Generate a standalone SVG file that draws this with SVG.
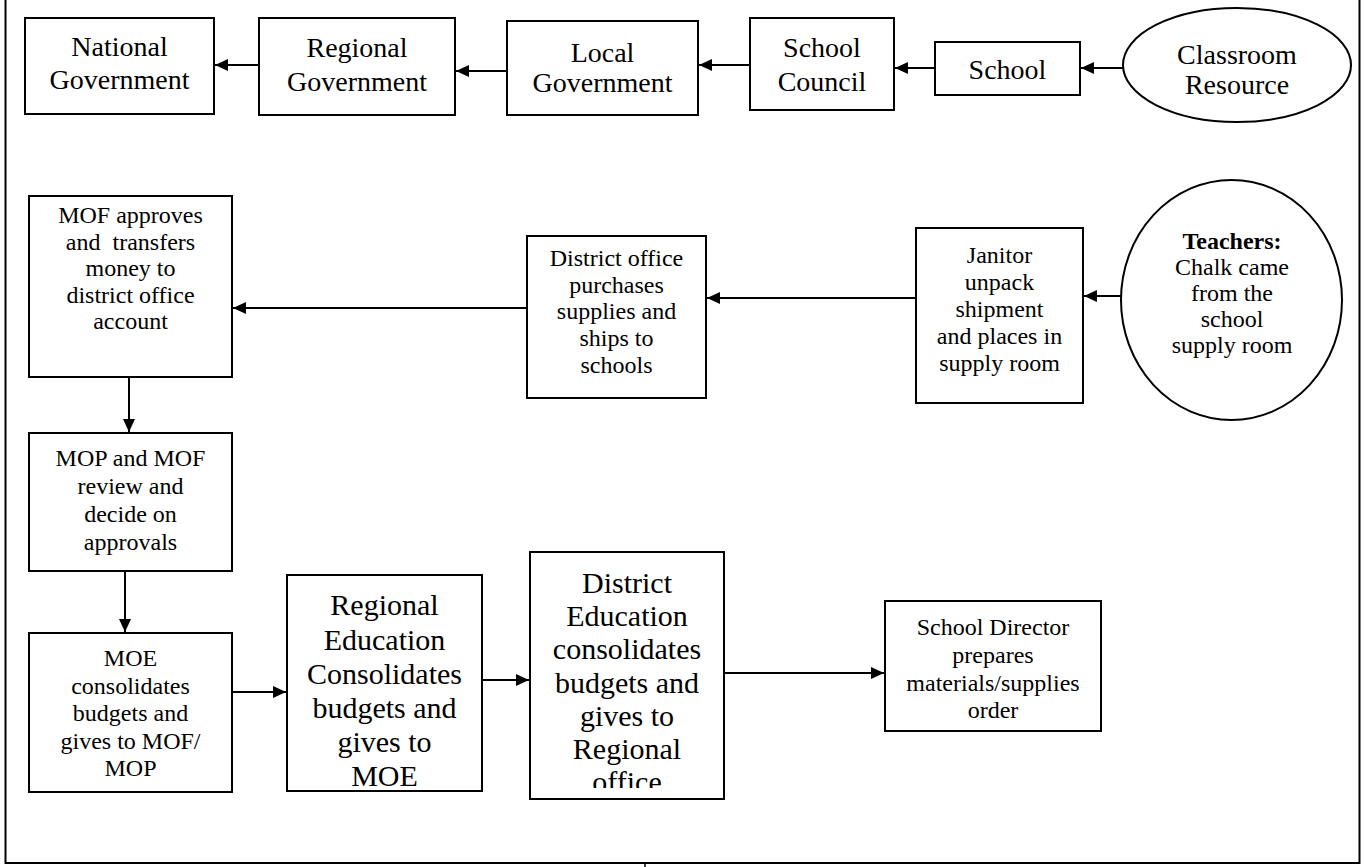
<svg xmlns="http://www.w3.org/2000/svg" width="1364" height="867" viewBox="0 0 1364 867">
  <style>
    .box { fill: #fff; stroke: #000; stroke-width: 2; }
    .edge { fill: none; stroke: #000; stroke-width: 2; }
    text { font-family: "Liberation Serif", "Times New Roman", serif; fill: #000; text-anchor: middle; }
    .t28 { font-size: 28px; }
    .t24 { font-size: 24px; }
    .t30 { font-size: 30px; }
    .b { font-weight: bold; }
  </style>
  <defs>
    <marker id="arrow" markerUnits="userSpaceOnUse" markerWidth="14" markerHeight="12" refX="13" refY="6" orient="auto">
      <path d="M0,0 L13,6 L0,12 Z" fill="#000"/>
    </marker>
    <clipPath id="distClip">
      <rect x="530" y="552" width="194" height="236"/>
    </clipPath>
  </defs>

  <rect width="1364" height="867" fill="#fff"/>

  <!-- page frame (top edge runs off the sheet) -->
  <path d="M5.5,0 V863 H1359.5 V0" class="edge"/>
  <line x1="645" y1="863" x2="645" y2="867" stroke="#000" stroke-width="1.5"/>

  <!-- top chain -->
  <g id="national-government">
    <rect class="box" x="25" y="18" width="189" height="96"/>
    <text class="t28" x="119.5" y="56">National</text>
    <text class="t28" x="119.5" y="89">Government</text>
  </g>
  <g id="regional-government">
    <rect class="box" x="259" y="18" width="196" height="97"/>
    <text class="t28" x="357" y="57">Regional</text>
    <text class="t28" x="357" y="91">Government</text>
  </g>
  <g id="local-government">
    <rect class="box" x="507" y="21" width="191" height="94"/>
    <text class="t28" x="602.5" y="62">Local</text>
    <text class="t28" x="602.5" y="92">Government</text>
  </g>
  <g id="school-council">
    <rect class="box" x="750" y="18" width="144" height="92"/>
    <text class="t28" x="822" y="57">School</text>
    <text class="t28" x="822" y="91">Council</text>
  </g>
  <g id="school">
    <rect class="box" x="935" y="42" width="145" height="53"/>
    <text class="t28" x="1007.5" y="79">School</text>
  </g>
  <g id="classroom-resource">
    <ellipse class="box" cx="1237" cy="65" rx="114" ry="57"/>
    <text class="t28" x="1237" y="64">Classroom</text>
    <text class="t28" x="1237" y="94">Resource</text>
  </g>

  <!-- middle chain -->
  <g id="mof-approves">
    <rect class="box" x="29" y="196" width="203" height="181"/>
    <text class="t24" x="130.5" y="223">MOF approves</text>
    <text class="t24" x="130.5" y="249.5" style="white-space:pre">and  transfers</text>
    <text class="t24" x="130.5" y="276">money to</text>
    <text class="t24" x="130.5" y="302.5">district office</text>
    <text class="t24" x="130.5" y="329">account</text>
  </g>
  <g id="district-office">
    <rect class="box" x="527" y="236" width="179" height="162"/>
    <text class="t24" x="616.5" y="266">District office</text>
    <text class="t24" x="616.5" y="293">purchases</text>
    <text class="t24" x="616.5" y="319">supplies and</text>
    <text class="t24" x="616.5" y="346">ships to</text>
    <text class="t24" x="616.5" y="373">schools</text>
  </g>
  <g id="janitor">
    <rect class="box" x="916" y="228" width="167" height="175"/>
    <text class="t24" x="999.5" y="263">Janitor</text>
    <text class="t24" x="999.5" y="290">unpack</text>
    <text class="t24" x="999.5" y="317">shipment</text>
    <text class="t24" x="999.5" y="344">and places in</text>
    <text class="t24" x="999.5" y="371">supply room</text>
  </g>
  <g id="teachers">
    <ellipse class="box" cx="1231.5" cy="300" rx="110.5" ry="120"/>
    <text class="t24 b" x="1232" y="249">Teachers:</text>
    <text class="t24" x="1232" y="275">Chalk came</text>
    <text class="t24" x="1232" y="301">from the</text>
    <text class="t24" x="1232" y="327">school</text>
    <text class="t24" x="1232" y="353">supply room</text>
  </g>
  <g id="mop-mof-review">
    <rect class="box" x="29" y="433" width="203" height="138"/>
    <text class="t24" x="130.5" y="466">MOP and MOF</text>
    <text class="t24" x="130.5" y="494">review and</text>
    <text class="t24" x="130.5" y="522">decide on</text>
    <text class="t24" x="130.5" y="550">approvals</text>
  </g>

  <!-- bottom chain -->
  <g id="moe-consolidates">
    <rect class="box" x="29" y="633" width="203" height="159"/>
    <text class="t24" x="130.5" y="666">MOE</text>
    <text class="t24" x="130.5" y="693.5">consolidates</text>
    <text class="t24" x="130.5" y="721">budgets and</text>
    <text class="t24" x="130.5" y="748.5">gives to MOF/</text>
    <text class="t24" x="130.5" y="776">MOP</text>
  </g>
  <g id="regional-education">
    <rect class="box" x="287" y="575" width="195" height="216"/>
    <text class="t30" x="384.5" y="615">Regional</text>
    <text class="t30" x="384.5" y="649.5">Education</text>
    <text class="t30" x="384.5" y="684">Consolidates</text>
    <text class="t30" x="384.5" y="718">budgets and</text>
    <text class="t30" x="384.5" y="752">gives to</text>
    <text class="t30" x="384.5" y="786">MOE</text>
  </g>
  <g id="district-education">
    <rect class="box" x="530" y="552" width="194" height="247"/>
    <g clip-path="url(#distClip)">
      <text class="t30" x="627" y="593">District</text>
      <text class="t30" x="627" y="626">Education</text>
      <text class="t30" x="627" y="659">consolidates</text>
      <text class="t30" x="627" y="693">budgets and</text>
      <text class="t30" x="627" y="726">gives to</text>
      <text class="t30" x="627" y="759">Regional</text>
      <text class="t30" x="627" y="792">office</text>
    </g>
  </g>
  <g id="school-director">
    <rect class="box" x="885" y="601" width="216" height="130"/>
    <text class="t24" x="993" y="635">School Director</text>
    <text class="t24" x="993" y="663">prepares</text>
    <text class="t24" x="993" y="691">materials/supplies</text>
    <text class="t24" x="993" y="718">order</text>
  </g>

  <!-- connectors -->
  <g id="connectors" class="edge" marker-end="url(#arrow)">
    <line x1="259" y1="65" x2="215" y2="65"/>
    <line x1="507" y1="71" x2="456" y2="71"/>
    <line x1="750" y1="65" x2="699" y2="65"/>
    <line x1="935" y1="68" x2="895" y2="68"/>
    <line x1="1123" y1="68" x2="1081" y2="68"/>
    <line x1="1121" y1="296" x2="1084" y2="296"/>
    <line x1="916" y1="298" x2="707" y2="298"/>
    <line x1="527" y1="308" x2="233" y2="308"/>
    <line x1="129" y1="377" x2="129" y2="432"/>
    <line x1="125" y1="571" x2="125" y2="632"/>
    <line x1="232" y1="692" x2="286" y2="692"/>
    <line x1="482" y1="680" x2="529" y2="680"/>
    <line x1="724" y1="673" x2="884" y2="673"/>
  </g>
</svg>
